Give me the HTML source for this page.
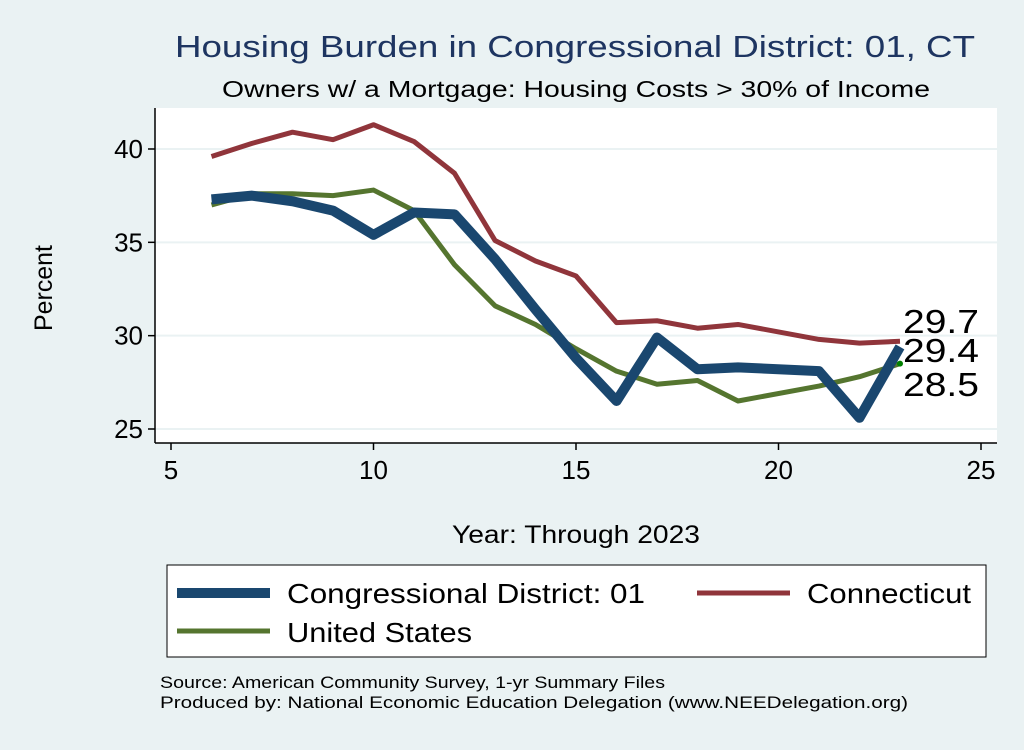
<!DOCTYPE html>
<html><head><meta charset="utf-8"><style>
body{margin:0;background:#eaf2f3;font-family:"Liberation Sans",Arial,sans-serif}
</style></head><body>
<svg id="c" width="1024" height="745" xmlns="http://www.w3.org/2000/svg">
<rect width="1024" height="745" fill="#eaf2f3"/>
<text x="175" y="57" font-size="31" fill="#1e3561" textLength="800" lengthAdjust="spacingAndGlyphs">Housing Burden in Congressional District:  01, CT</text>
<text x="222" y="97" font-size="23" fill="#000" textLength="708" lengthAdjust="spacingAndGlyphs">Owners w/ a Mortgage: Housing Costs &gt; 30% of Income</text>
<rect x="155" y="108" width="842" height="335" fill="#fff"/>
<g id="grid"></g>
<line x1="155" y1="108" x2="155" y2="443" stroke="#000" stroke-width="1.5"/>
<line x1="155" y1="443" x2="997" y2="443" stroke="#000" stroke-width="1.5"/>
<g id="axes"></g>
<g id="series"></g>
<text transform="translate(52,288) rotate(-90)" font-size="25" text-anchor="middle" textLength="86" lengthAdjust="spacingAndGlyphs">Percent</text>
<text x="452" y="543" font-size="25" textLength="248" lengthAdjust="spacingAndGlyphs">Year: Through 2023</text>
<g>
<rect x="167" y="565" width="819" height="92" fill="#fff" stroke="#000" stroke-width="1"/>
<line x1="177" y1="593" x2="270" y2="593" stroke="#1a476f" stroke-width="10"/>
<text x="287" y="603" font-size="28" textLength="358" lengthAdjust="spacingAndGlyphs">Congressional District:  01</text>
<line x1="697" y1="593" x2="790" y2="593" stroke="#90353b" stroke-width="5"/>
<text x="807" y="603" font-size="28" textLength="164" lengthAdjust="spacingAndGlyphs">Connecticut</text>
<line x1="177" y1="631" x2="270" y2="631" stroke="#55752f" stroke-width="5"/>
<text x="287" y="642" font-size="28" textLength="185" lengthAdjust="spacingAndGlyphs">United States</text>
</g>
<text x="160" y="688" font-size="17" textLength="505" lengthAdjust="spacingAndGlyphs">Source: American Community Survey, 1-yr Summary Files</text>
<text x="160" y="708" font-size="17" textLength="748" lengthAdjust="spacingAndGlyphs">Produced by: National Economic Education Delegation (www.NEEDelegation.org)</text>
</svg>
<script>
const years=[6,7,8,9,10,11,12,13,14,15,16,17,18,19,21,22,23];
const district=[37.3,37.5,37.2,36.7,35.4,36.6,36.5,34.1,31.4,28.8,26.5,29.9,28.2,28.3,28.1,25.6,29.4];
const connecticut=[39.6,40.3,40.9,40.5,41.3,40.4,38.7,35.1,34.0,33.2,30.7,30.8,30.4,30.6,29.8,29.6,29.7];
const unitedStates=[37.0,37.6,37.6,37.5,37.8,36.7,33.8,31.6,30.6,29.3,28.1,27.4,27.6,26.5,27.3,27.8,28.5];
const xTicks=[5,10,15,20,25];
const yTicks=[25,30,35,40];
const NS="http://www.w3.org/2000/svg";
const X=v=>171+(v-5)*40.5, Y=v=>429-(v-25)*18.667;
function mk(t,a,p){const e=document.createElementNS(NS,t);for(const k in a)e.setAttribute(k,a[k]);p.appendChild(e);return e;}
const grid=document.getElementById('grid'),axes=document.getElementById('axes'),ser=document.getElementById('series');
yTicks.forEach(v=>{
 const g=mk('line',{x1:155,x2:997,y1:Y(v),y2:Y(v),stroke:'#eaf2f3','stroke-width':2},grid);
 
 
 mk('line',{x1:148,x2:155,y1:Y(v),y2:Y(v),stroke:'#000','stroke-width':1.5},axes);
 const t=mk('text',{x:143,y:Y(v)+9,'font-size':26,'text-anchor':'end'},axes);t.textContent=v;
 
 
});
xTicks.forEach(v=>{
 mk('line',{x1:X(v),x2:X(v),y1:443,y2:450,stroke:'#000','stroke-width':1.5},axes);
 const t=mk('text',{x:X(v),y:479,'font-size':26,'text-anchor':'middle'},axes);t.textContent=v;
 
 
});
function line(vals,col,w,name){
 const p=mk('polyline',{points:years.map((y,i)=>X(y)+','+Y(vals[i])).join(' '),fill:'none',stroke:col,'stroke-width':w,'stroke-linejoin':'round'},ser);
 
 
}
line(connecticut,'#90353b',5,'line-connecticut');
line(unitedStates,'#55752f',5,'line-united-states');
line(district,'#1a476f',10,'line-district');
const n=years.length-1;
const dot=mk('circle',{cx:X(years[n]),cy:Y(unitedStates[n]),r:3,fill:'#008000'},ser);


[[connecticut[n],333],[district[n],362],[unitedStates[n],396]].forEach(([v,y])=>{
 const t=mk('text',{x:903,y:y,'font-size':33,textLength:76,lengthAdjust:'spacingAndGlyphs'},ser);t.textContent=v.toFixed(1);
 
 
});
</script>
</body></html>
